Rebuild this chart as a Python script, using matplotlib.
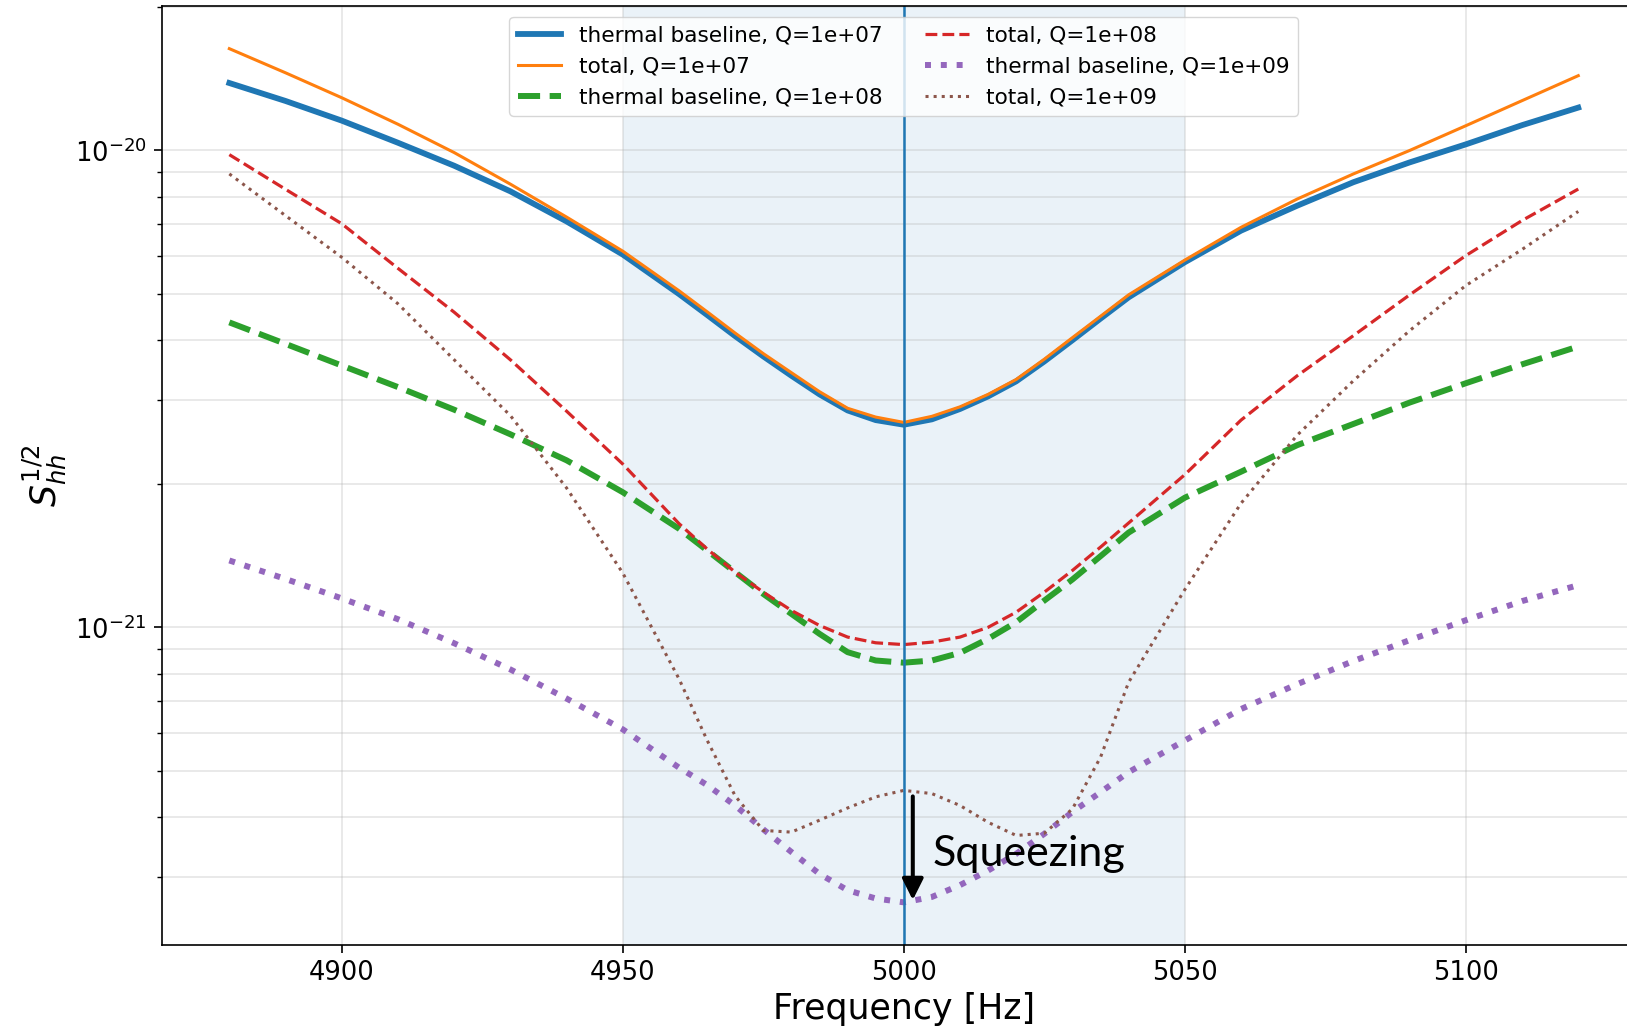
import numpy as np
import matplotlib
matplotlib.use('Agg')
import matplotlib.pyplot as plt

plt.rcParams.update({
    'font.size': 16, 'xtick.labelsize': 18.5, 'ytick.labelsize': 18.5,
    'axes.labelsize': 25, 'legend.fontsize': 15.6,
})

# frequency grid [Hz]
freq = [4880, 4890, 4900, 4910, 4920, 4930, 4940, 4950, 4960, 4965, 4970,
        4975, 4980, 4985, 4990, 4995, 5000, 5005, 5010, 5015, 5020, 5025,
        5030, 5035, 5040, 5050, 5060, 5070, 5080, 5090, 5100, 5110, 5120]

Q_values = [1e7, 1e8, 1e9]

# sqrt(S_hh)
thermal_q7 = [1.385e-20, 1.27e-20, 1.155e-20, 1.038e-20, 9.29e-21, 8.21e-21,
              7.10e-21, 6.05e-21, 5.00e-21, 4.52e-21, 4.08e-21, 3.70e-21,
              3.37e-21, 3.08e-21, 2.85e-21, 2.72e-21, 2.66e-21, 2.73e-21,
              2.87e-21, 3.05e-21, 3.28e-21, 3.61e-21, 4.00e-21, 4.44e-21,
              4.92e-21, 5.83e-21, 6.79e-21, 7.66e-21, 8.58e-21, 9.44e-21,
              1.03e-20, 1.13e-20, 1.23e-20]
total_q7 = [1.635e-20, 1.455e-20, 1.29e-20, 1.135e-20, 9.90e-21, 8.50e-21,
            7.25e-21, 6.15e-21, 5.08e-21, 4.59e-21, 4.14e-21, 3.75e-21,
            3.42e-21, 3.12e-21, 2.88e-21, 2.76e-21, 2.69e-21, 2.77e-21,
            2.90e-21, 3.08e-21, 3.31e-21, 3.65e-21, 4.05e-21, 4.49e-21,
            4.98e-21, 5.89e-21, 6.90e-21, 7.91e-21, 8.93e-21, 1.0e-20,
            1.127e-20, 1.272e-20, 1.435e-20]
thermal_q8 = [4.36e-21, 3.93e-21, 3.54e-21, 3.19e-21, 2.86e-21, 2.54e-21,
              2.24e-21, 1.92e-21, 1.61e-21, 1.45e-21, 1.305e-21, 1.175e-21,
              1.067e-21, 9.69e-22, 8.87e-22, 8.52e-22, 8.43e-22, 8.52e-22,
              8.84e-22, 9.46e-22, 1.025e-21, 1.138e-21, 1.26e-21, 1.41e-21,
              1.58e-21, 1.87e-21, 2.12e-21, 2.41e-21, 2.67e-21, 2.96e-21,
              3.25e-21, 3.56e-21, 3.88e-21]
total_q8 = [9.80e-21, 8.29e-21, 7.02e-21, 5.66e-21, 4.58e-21, 3.64e-21,
            2.84e-21, 2.20e-21, 1.65e-21, 1.46e-21, 1.305e-21, 1.185e-21,
            1.085e-21, 1.009e-21, 9.54e-22, 9.28e-22, 9.20e-22, 9.31e-22,
            9.54e-22, 1.0e-21, 1.076e-21, 1.185e-21, 1.316e-21, 1.473e-21,
            1.655e-21, 2.09e-21, 2.72e-21, 3.37e-21, 4.09e-21, 4.98e-21,
            6.02e-21, 7.13e-21, 8.30e-21]
thermal_q9 = [1.381e-21, 1.263e-21, 1.15e-21, 1.04e-21, 9.26e-22, 8.16e-22,
              7.09e-22, 6.11e-22, 5.08e-22, 4.67e-22, 4.23e-22, 3.77e-22,
              3.38e-22, 3.04e-22, 2.81e-22, 2.70e-22, 2.65e-22, 2.72e-22,
              2.88e-22, 3.09e-22, 3.35e-22, 3.69e-22, 4.10e-22, 4.51e-22,
              4.97e-22, 5.79e-22, 6.74e-22, 7.60e-22, 8.50e-22, 9.40e-22,
              1.035e-21, 1.135e-21, 1.226e-21]
total_q9 = [8.93e-21, 7.30e-21, 5.97e-21, 4.77e-21, 3.64e-21, 2.78e-21,
            1.96e-21, 1.30e-21, 7.80e-22, 5.80e-22, 4.43e-22, 3.75e-22,
            3.72e-22, 3.94e-22, 4.18e-22, 4.41e-22, 4.55e-22, 4.48e-22,
            4.23e-22, 3.90e-22, 3.66e-22, 3.70e-22, 4.16e-22, 5.34e-22,
            7.67e-22, 1.20e-21, 1.82e-21, 2.53e-21, 3.29e-21, 4.19e-21,
            5.21e-21, 6.20e-21, 7.45e-21]

f0 = 5000
band = (4950, 5050)

thermal = [thermal_q7, thermal_q8, thermal_q9]
total = [total_q7, total_q8, total_q9]
thermal_style = [dict(ls='-', lw=4.2), dict(ls='--', lw=4.3), dict(ls=':', lw=4.3)]
total_style = [dict(ls='-', lw=2.2), dict(ls='--', lw=2.3), dict(ls=':', lw=2.2)]

fig = plt.figure(figsize=(16.27, 10.29), dpi=100)
# right edge of the axes lies just outside the canvas, as in the reference
ax = fig.add_axes([0.0995, 0.0816, 0.912, 0.9126])

colors = ['C0', 'C1', 'C2', 'C3', 'C4', 'C5']
k = 0
for i, Q in enumerate(Q_values):
    ax.plot(freq, thermal[i], color=colors[k], label=f'thermal baseline, Q={Q:.0e}',
            **thermal_style[i])
    ax.plot(freq, total[i], color=colors[k + 1], label=f'total, Q={Q:.0e}',
            **total_style[i])
    k += 2

ax.axvspan(*band, color='C0', alpha=0.09, lw=0)
ax.axvline(f0, color='C0', lw=1.8)

ax.set_yscale('log')
ax.set_xlabel('Frequency [Hz]')
ax.set_ylabel(r'$S_{hh}^{1/2}$')
ax.grid(True, which='both', color='#b0b0b0', alpha=0.35, lw=1.1)
ax.tick_params(which='major', length=6, width=1.2, pad=5)
ax.tick_params(which='minor', length=3.5, width=1.0)
for s in ax.spines.values():
    s.set_linewidth(1.2)

ax.legend(loc='upper center', ncol=2)

# squeezing arrow + label
ax.annotate('', xy=(5001.6, 2.68e-22), xytext=(5001.6, 4.42e-22),
            arrowprops=dict(arrowstyle='-|>', lw=2.9, color='black',
                            mutation_scale=32, shrinkA=0, shrinkB=0))
ax.text(5005.1, 3.16e-22, 'Squeezing', family='Lato', fontsize=31,
        va='baseline', ha='left')

fig.savefig('out.png', dpi=100)
